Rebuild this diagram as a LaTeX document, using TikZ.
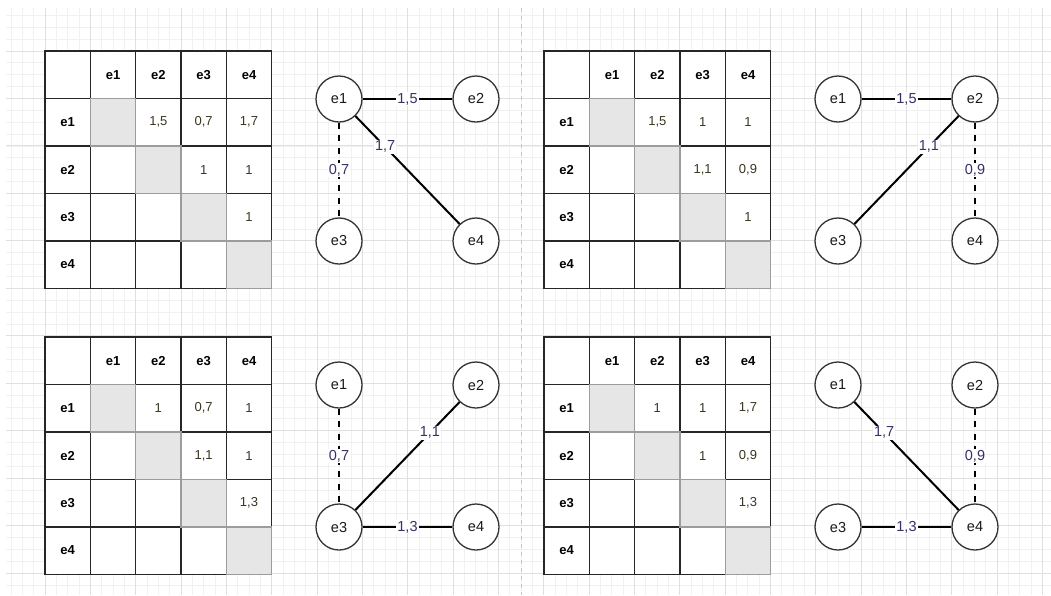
\documentclass[tikz,border=0pt]{standalone}
\usepackage{fontspec}
\setmainfont{Liberation Sans}
\definecolor{tblc}{HTML}{262626}
\definecolor{numc}{HTML}{3A3422}
\definecolor{labc}{HTML}{3A2E66}
\definecolor{diagf}{HTML}{E6E6E6}
\definecolor{diagd}{HTML}{9C9C9C}
\definecolor{nodec}{HTML}{333333}
\definecolor{gminor}{HTML}{F1F1F1}
\definecolor{gmajor}{HTML}{E0E0E0}
\definecolor{sepc}{HTML}{C8C8C8}
\tikzset{
  cellbox/.style={draw=tblc, line width=1.4pt, fill=white, minimum width=45.33pt, minimum height=47.46pt, inner sep=0pt, font=\fontsize{13}{15}\selectfont, text=numc},
  hdrbox/.style={cellbox, font=\fontsize{13}{15}\selectfont\bfseries, text=black},
  diagbox/.style={cellbox, fill=diagf, draw=diagd},
  vert/.style={circle, draw=nodec, line width=1.3pt, fill=white, minimum size=46pt, inner sep=0pt, font=\fontsize{14.5}{16}\selectfont, text=black!90},
  edge/.style={line width=2pt, draw=black},
  dedge/.style={edge, dash pattern=on 6pt off 6.5pt},
  elabel/.style={fill=white, inner sep=1pt, font=\fontsize{14.5}{16}\selectfont, text=labc},
}
\newcommand\mytab[6]{%
  \node[hdrbox] (corner) at (67.67,74.73) {};
  \foreach \k in {1,2,3,4}{%
    \node[hdrbox] (col\k) at ({67.67+45.333*\k},74.73) {e\k};
    \node[hdrbox] (row\k) at (67.67,{74.73+47.46*\k}) {e\k};
  }
  \foreach \r/\c in {2/1,3/1,3/2,4/1,4/2,4/3}{%
    \node[cellbox] (c\r\c) at ({67.67+45.333*\c},{74.73+47.46*\r}) {};
  }
  \node[cellbox] (c12) at ({67.67+45.333*2},{74.73+47.46*1}) {#1};
  \node[cellbox] (c13) at ({67.67+45.333*3},{74.73+47.46*1}) {#2};
  \node[cellbox] (c14) at ({67.67+45.333*4},{74.73+47.46*1}) {#3};
  \node[cellbox] (c23) at ({67.67+45.333*3},{74.73+47.46*2}) {#4};
  \node[cellbox] (c24) at ({67.67+45.333*4},{74.73+47.46*2}) {#5};
  \node[cellbox] (c34) at ({67.67+45.333*4},{74.73+47.46*3}) {#6};
  \foreach \k in {1,2,3,4}{%
    \node[diagbox] (c\k\k) at ({67.67+45.333*\k},{74.73+47.46*\k}) {};
  }
  \node[vert] (e1) at (339,99) {e1};
  \node[vert] (e2) at (476,99) {e2};
  \node[vert] (e3) at (339,241) {e3};
  \node[vert] (e4) at (476,241) {e4};
}
\begin{document}
\begin{tikzpicture}[x=1pt,y=-1pt]
  \useasboundingbox (0,0) rectangle (1051,595);
  \fill[white] (0,0) rectangle (1051,595);
  % background grid
  \begin{scope}
    \clip (6,8) rectangle (1051,595);
    \foreach \i in {0,...,93}{\draw[gminor, line width=0.8pt] ({-0.33+11.333*\i},0) -- ({-0.33+11.333*\i},595);}
    \foreach \i in {0,...,50}{\draw[gminor, line width=0.8pt] (0,{3.54+11.865*\i}) -- (1051,{3.54+11.865*\i});}
    \foreach \i in {0,...,23}{\draw[gmajor, line width=0.9pt] ({-0.33+45.333*\i},0) -- ({-0.33+45.333*\i},595);}
    \foreach \i in {0,...,12}{\draw[gmajor, line width=0.9pt] (0,{3.54+47.46*\i}) -- (1051,{3.54+47.46*\i});}
  \end{scope}
  % separator
  \coordinate (septop) at (521,8);
  \coordinate (sepbot) at (521,595);
  \draw[sepc, line width=1pt, dash pattern=on 4pt off 4pt] (septop) -- (sepbot);
  % top-left
  \begin{scope}[name prefix=TL-]
    \mytab{1,5}{0,7}{1,7}{1}{1}{1}
    \draw[edge] (e1) -- node[elabel] {1,5} (e2);
    \draw[dedge] (e1) -- node[elabel] {0,7} (e3);
    \draw[edge] (e1) -- node[elabel, pos=0.285] {1,7} (e4);
  \end{scope}
  % top-right
  \begin{scope}[shift={(499,0)}, name prefix=TR-]
    \mytab{1,5}{1}{1}{1,1}{0,9}{1}
    \draw[edge] (e1) -- node[elabel] {1,5} (e2);
    \draw[edge] (e2) -- node[elabel, pos=0.285] {1,1} (e3);
    \draw[dedge] (e2) -- node[elabel] {0,9} (e4);
  \end{scope}
  % bottom-left
  \begin{scope}[shift={(0,286)}, name prefix=BL-]
    \mytab{1}{0,7}{1}{1,1}{1}{1,3}
    \draw[dedge] (e1) -- node[elabel] {0,7} (e3);
    \draw[edge] (e2) -- node[elabel, pos=0.285] {1,1} (e3);
    \draw[edge] (e3) -- node[elabel] {1,3} (e4);
  \end{scope}
  % bottom-right
  \begin{scope}[shift={(499,286)}, name prefix=BR-]
    \mytab{1}{1}{1,7}{1}{0,9}{1,3}
    \draw[edge] (e1) -- node[elabel, pos=0.285] {1,7} (e4);
    \draw[dedge] (e2) -- node[elabel] {0,9} (e4);
    \draw[edge] (e3) -- node[elabel] {1,3} (e4);
  \end{scope}
\end{tikzpicture}
\end{document}
